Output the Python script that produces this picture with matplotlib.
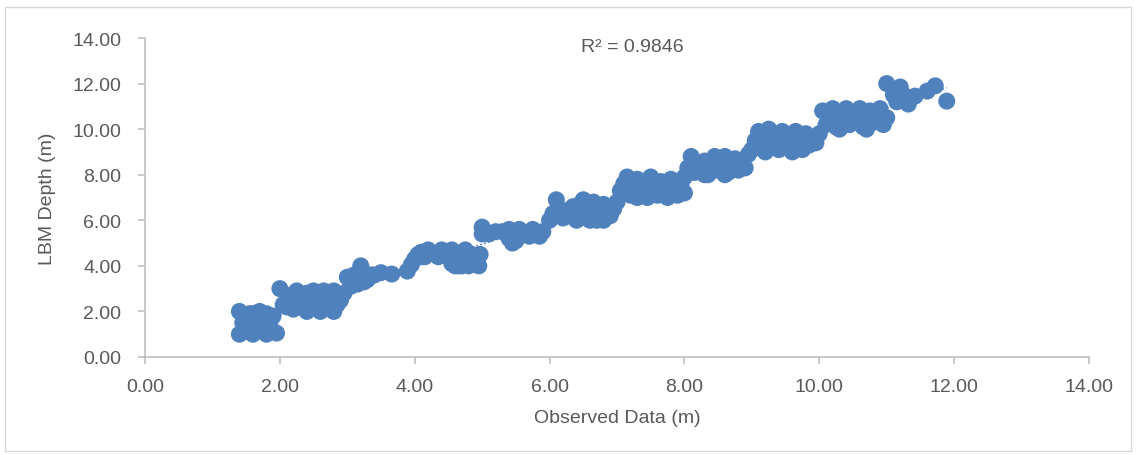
import numpy as np
import matplotlib
matplotlib.use("Agg")
import matplotlib.pyplot as plt
from matplotlib.patches import Rectangle

# ----
# Data (observed vs LBM depth, metres)
# ----
observed = [
    1.40, 1.40, 1.45, 1.50, 1.55, 1.55, 1.60, 1.60, 1.65, 1.70, 1.70, 1.75, 1.80, 1.80, 1.85, 1.90, 1.95,
    2.00, 2.05, 2.10, 2.15, 2.20, 2.25, 2.30, 2.35, 2.40, 2.45, 2.50, 2.55, 2.60, 2.65, 2.70, 2.75, 2.80,
    2.85, 2.90, 2.40, 2.60, 2.80, 2.20,
    2.95, 3.00, 3.05, 3.10, 3.15, 3.20, 3.25, 3.30, 3.35, 3.40, 3.50, 3.66,
    3.89, 3.95, 4.00, 4.05, 4.10, 4.15, 4.20, 4.30, 4.35, 4.40, 4.45, 4.55, 4.55, 4.60, 4.60, 4.65, 4.70,
    4.70, 4.75, 4.80, 4.85, 4.90, 4.95, 4.97,
    5.00, 5.00, 5.10, 5.20, 5.30, 5.40, 5.40, 5.45, 5.50, 5.50, 5.55, 5.60, 5.70, 5.75, 5.85, 5.90,
    6.00, 6.05, 6.10, 6.15, 6.20, 6.25, 6.30, 6.35, 6.40, 6.40, 6.45, 6.50, 6.55, 6.60, 6.60, 6.65, 6.70,
    6.75, 6.80, 6.80, 6.85, 6.90, 6.95, 7.00,
    7.05, 7.10, 7.15, 7.20, 7.25, 7.30, 7.30, 7.35, 7.40, 7.45, 7.50, 7.50, 7.55, 7.60, 7.65, 7.70, 7.75,
    7.80, 7.85, 7.90, 7.95, 8.00, 8.00,
    8.05, 8.10, 8.15, 8.20, 8.25, 8.30, 8.30, 8.35, 8.40, 8.45, 8.50, 8.55, 8.60, 8.60, 8.65, 8.70, 8.75,
    8.80, 8.85, 8.90, 8.95,
    9.00, 9.05, 9.10, 9.15, 9.20, 9.20, 9.25, 9.30, 9.35, 9.40, 9.45, 9.50, 9.55, 9.60, 9.60, 9.65, 9.70,
    9.75, 9.80, 9.85, 9.90, 9.95, 10.00,
    10.05, 10.10, 10.15, 10.20, 10.25, 10.30, 10.30, 10.35, 10.40, 10.45, 10.50, 10.55, 10.60, 10.65,
    10.70, 10.70, 10.75, 10.80, 10.85, 10.90, 10.95, 11.00,
    11.00, 11.10, 11.15, 11.20, 11.25, 11.32, 11.42, 11.60, 11.72, 11.89,
]
lbm_depth = [
    1.00, 2.00, 1.50, 1.50, 1.10, 1.90, 1.00, 1.90, 1.50, 2.00, 1.30, 1.20, 1.00, 1.90, 1.50, 1.80, 1.05,
    3.00, 2.30, 2.20, 2.70, 2.40, 2.90, 2.50, 2.30, 2.80, 2.40, 2.90, 2.20, 2.60, 2.90, 2.30, 2.70, 2.90,
    2.30, 2.50, 2.00, 2.00, 2.00, 2.10,
    2.80, 3.50, 3.10, 3.60, 3.20, 4.00, 3.30, 3.40, 3.60, 3.60, 3.70, 3.64,
    3.77, 4.05, 4.30, 4.50, 4.60, 4.40, 4.70, 4.50, 4.40, 4.70, 4.60, 4.70, 4.10, 4.50, 4.00, 4.00, 4.30,
    4.00, 4.70, 4.00, 4.50, 4.20, 4.00, 4.50,
    5.70, 5.40, 5.40, 5.50, 5.50, 5.60, 5.20, 5.00, 5.30, 5.10, 5.60, 5.40, 5.30, 5.60, 5.30, 5.50,
    6.00, 6.30, 6.90, 6.50, 6.10, 6.40, 6.20, 6.60, 6.30, 6.00, 6.70, 6.90, 6.10, 6.50, 6.00, 6.80, 6.00,
    6.40, 6.70, 6.00, 6.30, 6.20, 6.50, 6.80,
    7.30, 7.60, 7.90, 7.10, 7.50, 7.80, 7.00, 7.20, 7.60, 7.00, 7.90, 7.20, 7.40, 7.10, 7.70, 7.30, 7.00,
    7.80, 7.50, 7.10, 7.60, 7.90, 7.20,
    8.30, 8.80, 8.10, 8.50, 8.20, 8.60, 8.00, 8.00, 8.40, 8.80, 8.20, 8.50, 8.80, 8.00, 8.10, 8.40, 8.70,
    8.20, 8.50, 8.30, 8.90,
    9.10, 9.50, 9.90, 9.20, 9.60, 9.00, 10.00, 9.30, 9.70, 9.10, 9.90, 9.40, 9.70, 9.20, 9.00, 9.90, 9.50,
    9.10, 9.80, 9.30, 9.60, 9.40, 9.80,
    10.80, 10.20, 10.50, 10.90, 10.10, 10.60, 10.00, 10.30, 10.90, 10.20, 10.70, 10.40, 10.90, 10.10,
    10.50, 10.00, 10.80, 10.30, 10.60, 10.90, 10.20, 10.50,
    12.00, 11.50, 11.20, 11.85, 11.50, 11.10, 11.45, 11.67, 11.90, 11.23,
]
r2_label = "R\u00b2 = 0.9846"

blue = "#4F81BD"
text_gray = "#595959"
axis_gray = "#BFBFBF"

plt.rcParams["font.family"] = ["Liberation Sans", "DejaVu Sans"]

fig = plt.figure(figsize=(11.37, 4.56), dpi=100)
fig.patches.append(Rectangle((5 / 1137, 4 / 456), 1126 / 1137, 444 / 456,
                             transform=fig.transFigure, fill=False,
                             edgecolor="#D9D9D9", linewidth=1))
ax = fig.add_axes([145 / 1137, 1 - 358 / 456, 944 / 1137, 319 / 456])

x = np.array(observed)
y = np.array(lbm_depth)
ax.scatter(x, y, s=150, color=blue, edgecolors="none", zorder=2)

# ----
# Linear trendline (dotted)
# ----
coef = np.polyfit(x, y, 1)
tx = np.array([x.min(), x.max()])
ax.plot(tx, np.polyval(coef, tx), color=blue, linestyle=(0, (1, 1.5)),
        linewidth=1.2, zorder=3)

# ----
# Decorations
# ----
ax.set_xlim(0, 14)
ax.set_ylim(0, 14)
ticks = np.arange(0, 15, 2)
ax.set_xticks(ticks)
ax.set_yticks(ticks)
ax.set_xticklabels([f"{t:.2f}" for t in ticks])
ax.set_yticklabels([f"{t:.2f}" for t in ticks])
for side in ["top", "right"]:
    ax.spines[side].set_visible(False)
for side in ["left", "bottom"]:
    ax.spines[side].set_color(axis_gray)
    ax.spines[side].set_linewidth(1.2)
ax.tick_params(axis="both", colors=axis_gray, labelcolor=text_gray,
               labelsize=14, length=5, width=1.2, direction="out")
ax.tick_params(axis="x", pad=10)
ax.tick_params(axis="y", pad=12)
ax.set_xlabel("Observed Data (m)", fontsize=14, color=text_gray, labelpad=10)
ax.set_ylabel("LBM Depth (m)", fontsize=14, color=text_gray, labelpad=12)
fig.text(632 / 1137, 1 - 47 / 456, r2_label, fontsize=14, color=text_gray,
         ha="center", va="center")

fig.savefig("out.png", dpi=100)
plt.close(fig)
